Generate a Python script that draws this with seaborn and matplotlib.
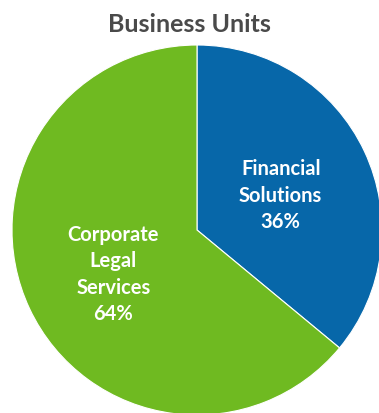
import matplotlib
matplotlib.use("Agg")
import matplotlib.pyplot as plt
import seaborn as sns

# Business unit revenue split
units = ["Financial\nSolutions", "Corporate\nLegal\nServices"]
shares = [36, 64]
colors = ["#0767A9", "#6FBA21"]

sns.set_theme(style="white")
plt.rcParams["font.family"] = ["Lato", "DejaVu Sans"]

W, H = 379, 413
fig = plt.figure(figsize=(W / 100, H / 100), dpi=100)

# Circle centre and radius in pixels
cx, cy, r = 197, 230, 185
ax = fig.add_axes([(cx - r) / W, (H - cy - r) / H, 2 * r / W, 2 * r / H])

labels_iter = iter(units)


def fmt(pct):
    return f"{next(labels_iter)}\n{pct:.0f}%"


wedges, texts, autotexts = ax.pie(
    shares,
    colors=colors,
    startangle=90,
    counterclock=False,
    radius=1.0,
    autopct=fmt,
    pctdistance=0.5,
    wedgeprops=dict(edgecolor="white", linewidth=0.8),
    textprops=dict(color="white", fontsize=14.5, fontweight="bold", linespacing=1.4),
)
# nudge the in-wedge labels slightly downward
for t in autotexts:
    t.set_ha("center")
    t.set_va("center")
    x, y = t.get_position()
    t.set_position((x, y - 0.027))
ax.set_xlim(-1, 1)
ax.set_ylim(-1, 1)
ax.set_aspect("equal")
ax.axis("off")

fig.text(0.5, 1 - 25 / H, "Business Units", ha="center", va="center",
         fontsize=18, fontweight="bold", color="#4A4A4A")

fig.savefig("out.png", dpi=100)
